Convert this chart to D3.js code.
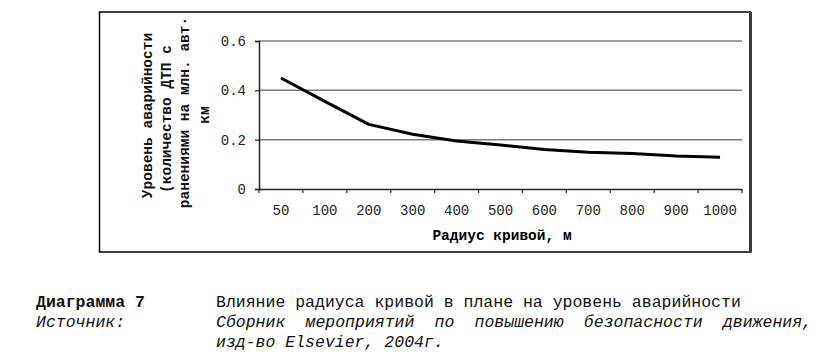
<!DOCTYPE html>
<html><head><meta charset="utf-8">
<script src="https://cdn.jsdelivr.net/npm/d3@7"></script>
<style>
html,body{margin:0;padding:0;background:#fff;}
svg{display:block;}
</style></head>
<body>
<svg id="chart" width="823" height="361"></svg>
<script>
const categories = ["50","100","200","300","400","500","600","700","800","900","1000"];
const accidentRate = [0.45,0.355,0.262,0.222,0.195,0.178,0.160,0.149,0.144,0.134,0.129];
const yTicks = [0, 0.2, 0.4, 0.6];
const yTickLabels = ["0","0.2","0.4","0.6"];
const xTitle = "Радиус кривой, м";
const yTitleLines = ["Уровень аварийности","(количество ДТП с","ранениями на млн. авт·","км"];
const captionNumber = "Диаграмма 7";
const captionTitle = "Влияние радиуса кривой в плане на уровень аварийности";
const sourceLabel = "Источник:";
const sourceLines = ["Сборник мероприятий по повышению безопасности движения,","изд-во Elsevier, 2004г."];

const svg = d3.select("#chart");
const mono = "'Liberation Mono','Courier New',monospace";

// frame
svg.append("rect").attr("x",99.5).attr("y",12).attr("width",651).attr("height",240)
  .attr("fill","none").attr("stroke","#000").attr("stroke-width",1.5);
svg.append("line").attr("x1",750.5).attr("x2",750.5).attr("y1",12).attr("y2",252.5)
  .attr("stroke","#3a3a3a").attr("stroke-width",3);

const L = 259, R = 742, T = 41, B = 189;
const x = d3.scaleBand().domain(categories).range([L, R]);
const y = d3.scaleLinear().domain([0, 0.6]).range([B, T]);

// gridlines
svg.append("g").selectAll("line").data(yTicks.filter(d=>d>0)).join("line")
  .attr("x1",L).attr("x2",R).attr("y1",d=>y(d)).attr("y2",d=>y(d))
  .attr("stroke","#7a7a7a").attr("stroke-width",1.5);

// y axis
const yAxis = d3.axisLeft(y).tickValues(yTicks).tickSize(4).tickPadding(9)
  .tickFormat((d,i)=>yTickLabels[i]);
const gy = svg.append("g").attr("transform",`translate(${L},0)`).call(yAxis);
gy.select(".domain").attr("stroke","#222").attr("stroke-width",1.5);
gy.selectAll(".tick line").attr("stroke","#222").attr("stroke-width",1.2);
gy.selectAll("text").attr("font-family",mono).attr("font-size",14).attr("fill","#222");

// x axis
const xAxis = d3.axisBottom(x).tickSize(0).tickPadding(16);
const gx = svg.append("g").attr("transform",`translate(0,${B})`).call(xAxis);
gx.select(".domain").attr("stroke","#222").attr("stroke-width",1.5);
gx.selectAll("text").attr("font-family",mono).attr("font-size",14).attr("fill","#222");
// tick marks at category boundaries
const bounds = categories.map(c=>x(c)).concat([R]);
svg.append("g").selectAll("line").data(bounds).join("line")
  .attr("x1",d=>d).attr("x2",d=>d).attr("y1",B).attr("y2",B+4)
  .attr("stroke","#222").attr("stroke-width",1.2);

// line
const line = d3.line().x((d,i)=>x(categories[i])+x.bandwidth()/2).y(d=>y(d));
svg.append("path").datum(accidentRate).attr("d",line)
  .attr("fill","none").attr("stroke","#000").attr("stroke-width",3).attr("stroke-linejoin","round");

// x title
svg.append("text").attr("x",502).attr("y",240).attr("text-anchor","middle")
  .attr("font-family",mono).attr("font-weight","bold").attr("font-size",14.5)
  .text(xTitle);

// justify helper: lays out words over [x0,x1]
function justify(g, words, x0, x1, attrs){
  const nodes = words.map(w=>{
    const t = g.append("text").text(w);
    for (const k in attrs) t.attr(k, attrs[k]);
    return t;
  });
  const widths = nodes.map(n=>n.node().getComputedTextLength());
  const total = d3.sum(widths);
  const gap = words.length>1 ? (x1-x0-total)/(words.length-1) : 0;
  let cx = words.length>1 ? x0 : (x0+x1-total)/2;
  nodes.forEach((n,i)=>{ n.attr("x",cx); cx += widths[i]+gap; });
}

// y title (rotated, centered lines)
const yTitleCenters = [115.5,119,112.5,115];
const yTitleX = [152,171,189,209];
yTitleLines.forEach((ln,i)=>{
  svg.append("text").attr("transform",`translate(${yTitleX[i]},${yTitleCenters[i]}) rotate(-90)`)
    .attr("text-anchor","middle").attr("font-family",mono).attr("font-weight","bold")
    .attr("font-size",14.5).attr("fill","#111").text(ln);
});

// captions
const capFont = {"font-family":mono,"font-size":16.5,"fill":"#111"};
function txt(s,xp,yp,extra){
  const t = svg.append("text").attr("x",xp).attr("y",yp).text(s);
  for (const k in capFont) t.attr(k,capFont[k]);
  for (const k in (extra||{})) t.attr(k,extra[k]);
  return t;
}
txt(captionNumber,36,307,{"font-weight":"bold"});
txt(captionTitle,216,307);
txt(sourceLabel,36,327,{"font-style":"italic"});
const g2 = svg.append("g");
justify(g2, sourceLines[0].split(" "), 216, 812, Object.assign({"y":327,"font-style":"italic"},capFont));
txt(sourceLines[1],216,347,{"font-style":"italic"});
</script>
</body></html>
